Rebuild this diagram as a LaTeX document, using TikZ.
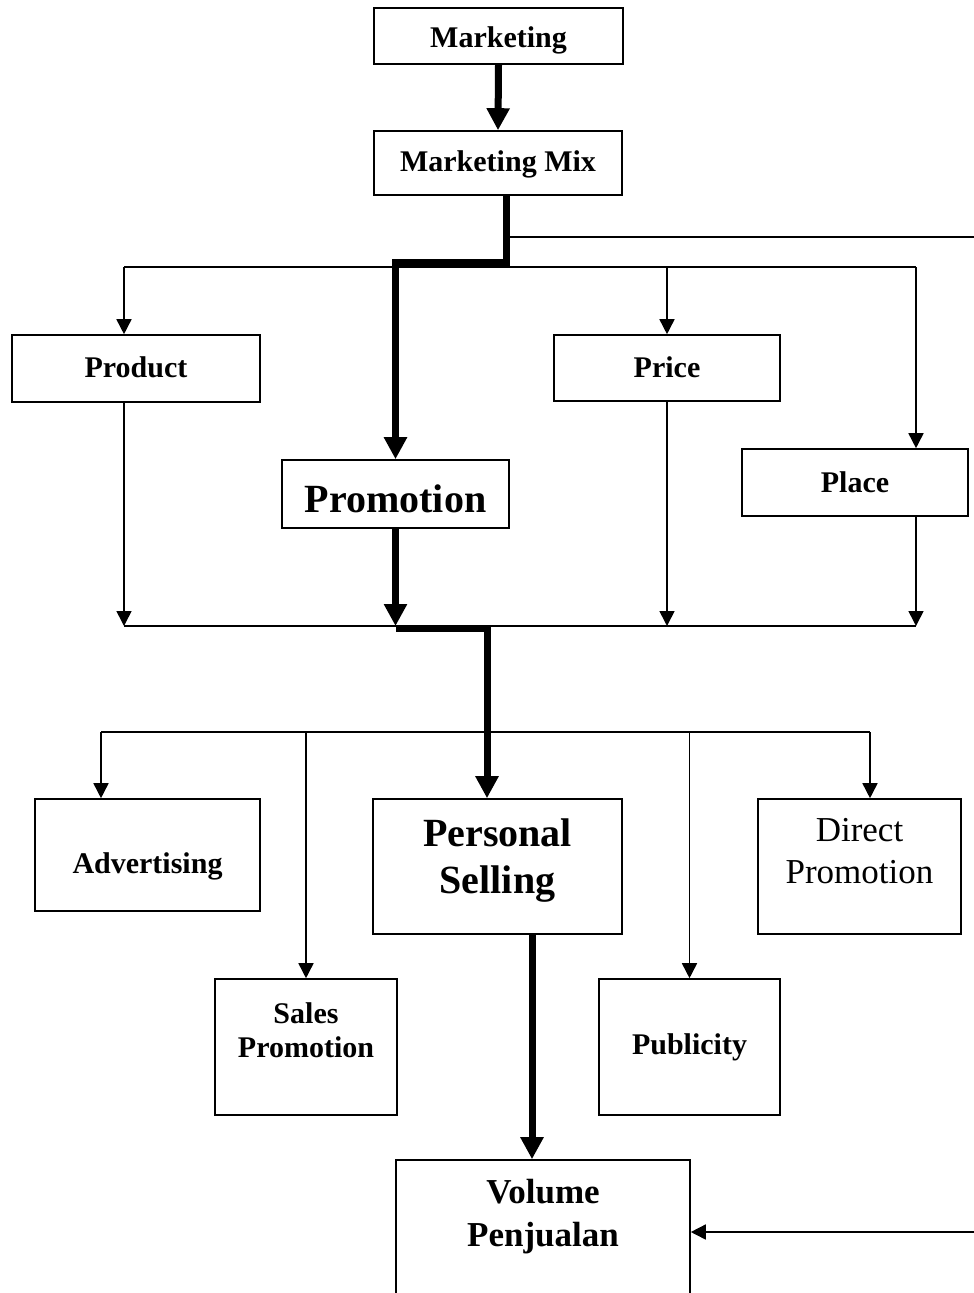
\documentclass[tikz,border=0pt]{standalone}
\usepackage{fontspec}
\setmainfont{Liberation Serif}
\usetikzlibrary{arrows.meta}
\begin{document}
\begin{tikzpicture}[x=1pt,y=-1pt,
    box/.style={draw,line width=1.6pt,rectangle,inner sep=0pt},
    sm/.style={font=\fontsize{30}{34}\selectfont\bfseries,align=center,yshift=-4pt},
    md/.style={font=\fontsize{35}{43}\selectfont\bfseries,align=center,yshift=-5pt},
    lg/.style={font=\fontsize{40}{47}\selectfont\bfseries,align=center,yshift=-4pt},
    thin/.style={line width=1.6pt},
    arr/.style={thin,-{Triangle[width=15pt,length=15pt]}},
    heavy/.style={line width=7pt},
    harr/.style={heavy,-{Triangle[width=22pt,length=22pt]}}]
    \useasboundingbox (0,0) rectangle (974,1293);
    \clip (0,0) rectangle (974,1293);
        % boxes
        \path (498.5,36) node[box,minimum width=249pt,minimum height=56pt] (market) {};
        \path (498,163) node[box,minimum width=248pt,minimum height=64pt] (mix) {};
        \path (136,368.5) node[box,minimum width=248pt,minimum height=67pt] (product) {};
        \path (667,368) node[box,minimum width=226pt,minimum height=66pt] (price) {};
        \path (855,482.5) node[box,minimum width=226pt,minimum height=67pt] (place) {};
        \path (395.5,494) node[box,minimum width=227pt,minimum height=68pt] (promo) {};
        \path (147.5,855) node[box,minimum width=225pt,minimum height=112pt] (advert) {};
        \path (497.5,866.5) node[box,minimum width=249pt,minimum height=135pt] (personal) {};
        \path (859.5,866.5) node[box,minimum width=203pt,minimum height=135pt] (direct) {};
        \path (306,1047) node[box,minimum width=182pt,minimum height=136pt] (sales) {};
        \path (689.5,1047) node[box,minimum width=181pt,minimum height=136pt] (public) {};
        \path (543,1260) node[box,minimum width=294pt,minimum height=200pt] (volume) {};
        % texts
        \path (498.5,36) node[sm] (marketT) {Marketing};
        \path (498,160) node[sm] (mixT) {Marketing Mix};
        \path (136,363) node[sm] (productT) {Product};
        \path (667,363) node[sm] (priceT) {Price};
        \path (855,478) node[sm] (placeT) {Place};
        \path (395.5,495) node[lg] (promoT) {Promotion};
        \path (147.5,862) node[sm] (advertT) {Advertising};
        \path (497.5,857) node[lg] (personalT) {Personal\\Selling};
        \path (859.5,846) node[md,font=\fontsize{35}{42}\selectfont] (directT) {Direct\\Promotion};
        \path (306,1026) node[sm] (salesT) {Sales\\Promotion};
        \path (689.5,1043) node[sm] (publicT) {Publicity};
        \path (543,1212) node[md] (volumeT) {Volume\\Penjualan};
        % lines
        \coordinate (busA1) at (124,267);
        \coordinate (busA2) at (916,267);
        \coordinate (busB1) at (124,626);
        \coordinate (busB2) at (916,626);
        \coordinate (busC1) at (101,732);
        \coordinate (busC2) at (870,732);
        \coordinate (tap) at (507,237);
        \coordinate (edgeA) at (974,237);
        \coordinate (edgeB) at (974,1232);
        \draw[harr] (market.south) -- (mix.north);
        \draw[harr] ([xshift=8.5pt]mix.south) -- ++(0,67) -| (promo.north);
        \draw[thin] (tap) -- (edgeA);
        \draw[thin] (busA1) -- (busA2);
        \draw[arr] (busA1) -- (busA1 |- product.north);
        \draw[arr] (price.north |- busA1) -- (price.north);
        \draw[arr] (busA2) -- (busA2 |- place.north);
        \draw[thin] (busB1) -- (busB2);
        \draw[arr] (product.south -| busA1) -- (busB1);
        \draw[arr] (price.south) -- (price.south |- busB1);
        \draw[arr] (place.south -| busA2) -- (busB2);
        \draw[harr] (promo.south) -- (promo.south |- busB1);
        \draw[harr] ([yshift=-2pt]promo.south |- busB1) -| ([xshift=-10.5pt]personal.north);
        \draw[thin] (busC1) -- (busC2);
        \draw[arr] (busC1) -- (busC1 |- advert.north);
        \draw[arr] (sales.north |- busC1) -- (sales.north);
        \draw[arr] (public.north |- busC1) -- (public.north);
        \draw[arr] (busC2) -- (busC2 |- direct.north);
        \draw[harr] ([xshift=34.5pt]personal.south) -- ([xshift=-11pt]volume.north);
        \draw[arr] (edgeB) -- (volume.east |- edgeB);
    \end{tikzpicture}
\end{document}
